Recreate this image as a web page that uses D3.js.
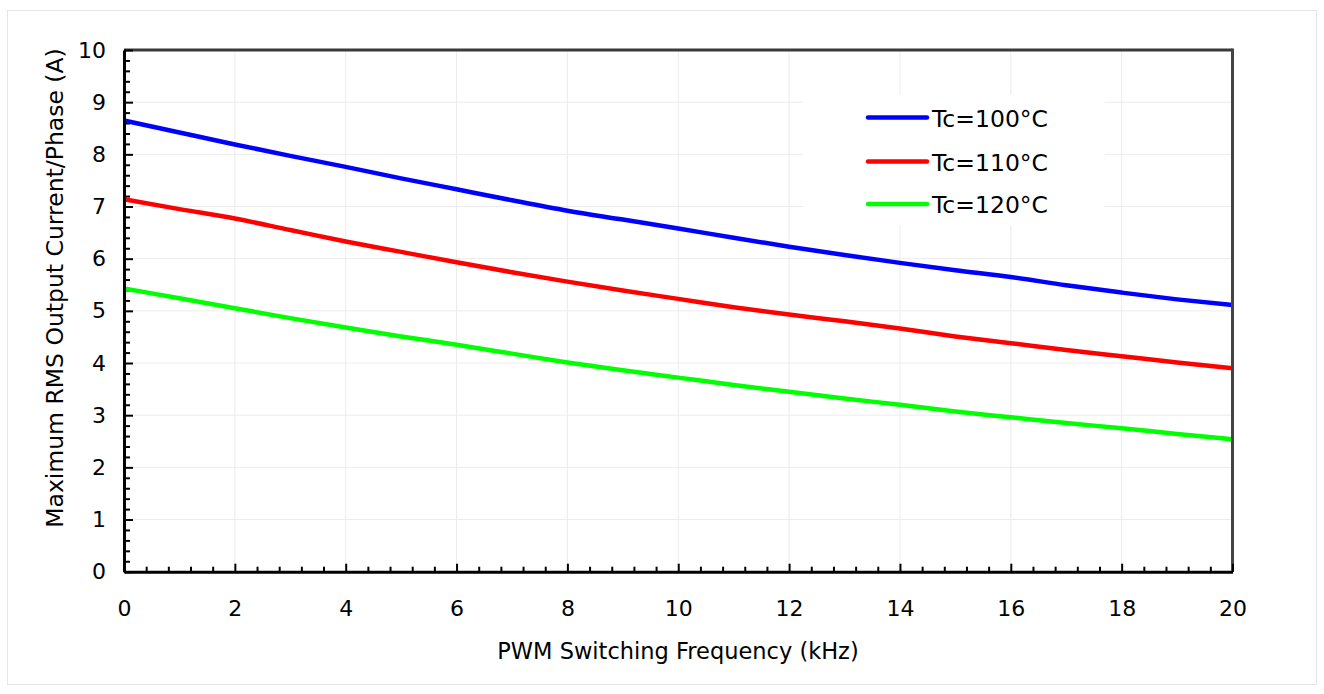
<!DOCTYPE html>
<html>
<head>
<meta charset="utf-8">
<script src="https://cdn.jsdelivr.net/npm/d3@7"></script>
<style>
  html, body { margin: 0; padding: 0; background: #ffffff; }
  svg { display: block; }
  text { font-family: "DejaVu Sans", Verdana, sans-serif; fill: #000; }
</style>
</head>
<body>
<svg id="chart" width="1324" height="694"></svg>
<script>
// ---- data ----
const frequencies = [0, 1, 2, 3, 4, 5, 6, 7, 8, 9, 10, 11, 12, 13, 14, 15, 16, 17, 18, 19, 20];
const tc100 = [8.65, 8.42, 8.19, 7.97, 7.76, 7.54, 7.33, 7.12, 6.92, 6.75, 6.58, 6.40, 6.23, 6.07, 5.92, 5.78, 5.65, 5.49, 5.35, 5.22, 5.11];
const tc110 = [7.14, 6.95, 6.77, 6.55, 6.33, 6.13, 5.93, 5.74, 5.56, 5.39, 5.23, 5.07, 4.93, 4.80, 4.66, 4.51, 4.38, 4.25, 4.13, 4.01, 3.90];
const tc120 = [5.43, 5.24, 5.05, 4.86, 4.68, 4.51, 4.35, 4.18, 4.01, 3.86, 3.72, 3.58, 3.45, 3.32, 3.20, 3.07, 2.96, 2.85, 2.75, 2.64, 2.54];
const seriesNames = ["Tc=100°C", "Tc=110°C", "Tc=120°C"];
const seriesColors = ["#0000ff", "#ff0000", "#00ff00"];
const xTickValues = [0, 2, 4, 6, 8, 10, 12, 14, 16, 18, 20];
const yTickValues = [0, 1, 2, 3, 4, 5, 6, 7, 8, 9, 10];
const xTitle = "PWM Switching Frequency (kHz)";
const yTitle = "Maximum RMS Output Current/Phase (A)";

// ---- layout ----
const svg = d3.select("#chart");
const plot = { left: 124, right: 1232.5, top: 50, bottom: 571.7 };

const x = d3.scaleLinear().domain([0, 20]).range([plot.left, plot.right]);
const y = d3.scaleLinear().domain([0, 10]).range([plot.bottom, plot.top]);

// outer faint frame
svg.append("rect")
  .attr("x", 7.5).attr("y", 10.5)
  .attr("width", 1309).attr("height", 674)
  .attr("fill", "none").attr("stroke", "#e6e6e6").attr("stroke-width", 1);

// gridlines
const grid = svg.append("g").attr("class", "grid");
grid.selectAll("line.gx").data(xTickValues.slice(1, -1)).join("line")
  .attr("x1", d => x(d)).attr("x2", d => x(d))
  .attr("y1", plot.top).attr("y2", plot.bottom)
  .attr("stroke", "#ececec").attr("stroke-width", 1);
grid.selectAll("line.gy").data(yTickValues.slice(1, -1)).join("line")
  .attr("x1", plot.left).attr("x2", plot.right)
  .attr("y1", d => y(d)).attr("y2", d => y(d))
  .attr("stroke", "#ececec").attr("stroke-width", 1);

// legend background (covers gridlines)
svg.append("rect")
  .attr("x", 803).attr("y", 95).attr("width", 302).attr("height", 130)
  .attr("fill", "#ffffff");

// minor ticks
const xMinor = d3.range(0, 20.001, 0.4).map(v => +v.toFixed(1)).filter(v => v % 2 !== 0);
const yMinor = d3.range(0, 10.001, 0.2).map(v => +v.toFixed(1)).filter(v => Math.abs(v - Math.round(v)) > 1e-6);

svg.append("g")
  .attr("transform", `translate(0,${plot.bottom})`)
  .call(d3.axisBottom(x).tickValues(xMinor).tickSize(-5).tickSizeOuter(0).tickFormat(""))
  .call(g => g.select(".domain").remove())
  .call(g => g.selectAll("line").attr("stroke", "#000").attr("stroke-width", 2));

svg.append("g")
  .attr("transform", `translate(${plot.left},0)`)
  .call(d3.axisLeft(y).tickValues(yMinor).tickSize(-6).tickSizeOuter(0).tickFormat(""))
  .call(g => g.select(".domain").remove())
  .call(g => g.selectAll("line").attr("stroke", "#000").attr("stroke-width", 2));

// series lines
const seriesData = [tc100, tc110, tc120];
const line = d3.line()
  .x((d, i) => x(frequencies[i]))
  .y(d => y(d))
  .curve(d3.curveMonotoneX);

svg.append("g").selectAll("path.series").data(seriesData).join("path")
  .attr("class", "series")
  .attr("d", d => line(d))
  .attr("fill", "none")
  .attr("stroke", (d, i) => seriesColors[i])
  .attr("stroke-width", 4.5)
  .attr("stroke-linejoin", "round")
  .attr("stroke-linecap", "butt");

// top and right frame
svg.append("line")
  .attr("x1", plot.left).attr("x2", plot.right)
  .attr("y1", plot.top).attr("y2", plot.top)
  .attr("stroke", "#3a3a3a").attr("stroke-width", 3);
svg.append("line")
  .attr("x1", plot.right).attr("x2", plot.right)
  .attr("y1", plot.top - 1.5).attr("y2", plot.bottom)
  .attr("stroke", "#444444").attr("stroke-width", 3);

// major axes
svg.append("g")
  .attr("transform", `translate(0,${plot.bottom})`)
  .call(d3.axisBottom(x).tickValues(xTickValues).tickSize(-8).tickSizeOuter(0).tickPadding(29))
  .call(g => g.select(".domain").attr("stroke", "#000").attr("stroke-width", 3))
  .call(g => g.selectAll(".tick line").attr("stroke", "#000").attr("stroke-width", 2))
  .call(g => g.selectAll(".tick text").attr("font-size", 22).attr("font-family", "DejaVu Sans").attr("fill", "#000"));

svg.append("g")
  .attr("transform", `translate(${plot.left},0)`)
  .call(d3.axisLeft(y).tickValues(yTickValues).tickSize(-9).tickSizeOuter(0).tickPadding(18))
  .call(g => g.select(".domain").attr("stroke", "#000").attr("stroke-width", 3))
  .call(g => g.selectAll(".tick line").attr("stroke", "#000").attr("stroke-width", 2))
  .call(g => g.selectAll(".tick text").attr("font-size", 22).attr("font-family", "DejaVu Sans").attr("fill", "#000"));

// axis titles
svg.append("text")
  .attr("x", 678).attr("y", 659)
  .attr("text-anchor", "middle")
  .attr("font-size", 22.5)
  .text(xTitle);

svg.append("text")
  .attr("transform", `translate(63,288) rotate(-90)`)
  .attr("text-anchor", "middle")
  .attr("font-size", 23.5)
  .text(yTitle);

// legend
const legend = svg.append("g");
const legendY = [117.5, 161.5, 204];
seriesNames.forEach((name, i) => {
  legend.append("line")
    .attr("x1", 868).attr("x2", 927)
    .attr("y1", legendY[i]).attr("y2", legendY[i])
    .attr("stroke", seriesColors[i]).attr("stroke-width", 4.5)
    .attr("stroke-linecap", "round");
  legend.append("text")
    .attr("x", 932).attr("y", legendY[i] + 9)
    .attr("font-size", 23.5)
    .text(name);
});
</script>
</body>
</html>
